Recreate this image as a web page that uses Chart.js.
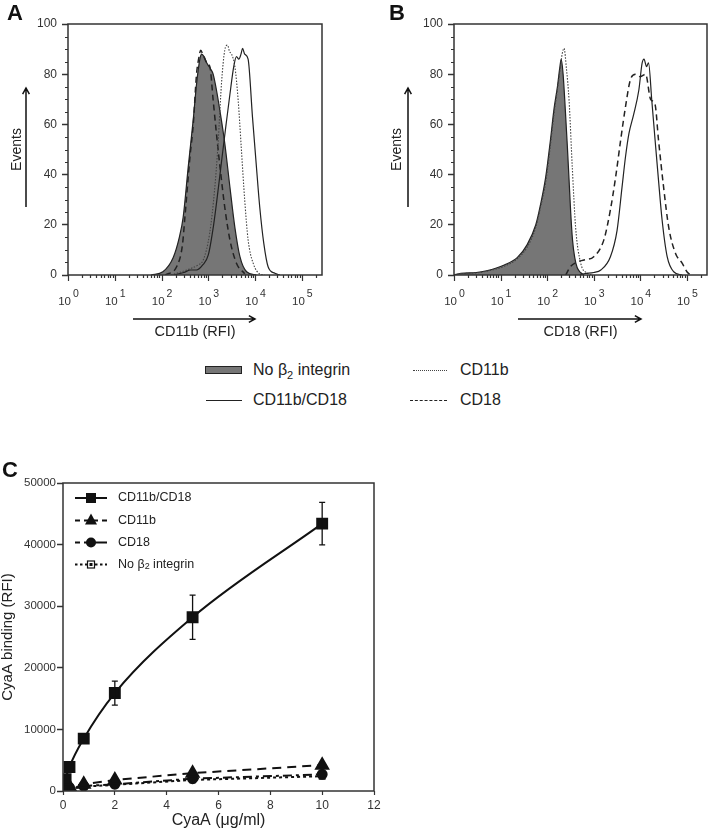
<!DOCTYPE html>
<html>
<head>
<meta charset="utf-8">
<script src="https://cdn.jsdelivr.net/npm/chart.js@4.4.1/dist/chart.umd.min.js"></script>
<style>
  body { margin: 0; background: #fff; font-family: 'Liberation Sans', Arial, sans-serif; color: #222; }
  #page { position: relative; width: 708px; height: 833px; overflow: hidden; }
  canvas { position: absolute; }
  .panel { position: absolute; font-weight: bold; font-size: 22px; line-height: 22px; color: #111; }
  .leg { position: absolute; font-size: 16px; line-height: 20px; white-space: nowrap; }
  .sample { position: absolute; box-sizing: border-box; }
</style>
</head>
<body>
<div id="page">
  <canvas id="chartA" width="354" height="345" style="left:0;top:0"></canvas>
  <canvas id="chartB" width="354" height="345" style="left:354px;top:0"></canvas>
  <canvas id="chartC" width="420" height="378" style="left:0;top:455px"></canvas>

  <div class="panel" style="left:7px;top:2px">A</div>
  <div class="panel" style="left:389px;top:2px">B</div>
  <div class="panel" style="left:2px;top:459px">C</div>

  <!-- legend shared by A and B -->
  <div class="sample" style="left:205px;top:366px;width:37px;height:8px;background:#767676;border:1.5px solid #222"></div>
  <div class="leg" style="left:253px;top:360px">No β<span style="font-size:11px;position:relative;top:4px">2</span> integrin</div>
  <div class="sample" style="left:413px;top:370px;width:34px;border-top:1px dotted #444"></div>
  <div class="leg" style="left:460px;top:360px">CD11b</div>
  <div class="sample" style="left:206px;top:400px;width:36px;border-top:1.5px solid #222"></div>
  <div class="leg" style="left:253px;top:390px">CD11b/CD18</div>
  <div class="sample" style="left:410px;top:400px;width:37px;border-top:1.5px dashed #222"></div>
  <div class="leg" style="left:460px;top:390px">CD18</div>
</div>

<script>
// Histogram data, panel A (CD11b staining): RFI values and event counts
const aNoneRfi = [60, 107, 178, 240, 290, 372, 477, 560, 660, 720, 810, 900, 1000, 1130, 1270, 1500, 1770, 2250, 2900, 3700, 4750, 6600, 10700];
const aNoneEvents = [0, 1.3, 7, 15, 23, 43, 62, 76, 86, 88, 87, 85, 83.5, 82, 80, 73.5, 65.5, 52.5, 35, 19, 7.3, 1.3, 0];
const aCd18Rfi = [120, 210, 280, 316, 405, 477, 560, 620, 690, 760, 850, 960, 1080, 1270, 1500, 1780, 2250, 2900, 4000, 6000];
const aCd18Events = [0, 3.3, 12, 23, 47, 60, 80, 86, 89.5, 88, 86, 84, 83, 69.7, 56, 43, 27, 14, 4.7, 0.5];
const aCd11bRfi = [160, 345, 600, 780, 1070, 1380, 1620, 1910, 2250, 2580, 2850, 3150, 3700, 4350, 5100, 6000, 7100, 9100, 12700, 16000];
const aCd11bEvents = [0, 2, 4, 6, 16.6, 35, 52.5, 76, 89.6, 91.6, 89, 88, 83, 69.7, 50, 30, 14, 4.7, 0.4, 0];
const aBothRfi = [180, 300, 420, 560, 760, 1000, 1300, 1650, 2000, 2400, 2900, 3500, 4000, 4500, 5000, 5400, 6000, 7100, 8800, 10700, 12600, 15400, 19000, 26500, 34000];
const aBothEvents = [0, 1, 2, 2, 4, 8, 20, 35, 48, 60, 72, 83, 87, 86, 88, 90.3, 88, 86, 63, 43, 27, 12.5, 3.3, 0.7, 0];

// Histogram data, panel B (CD18 staining)
const bNoneRfi = [1, 1.4, 3, 5, 12, 23, 37, 57, 72, 93, 118, 140, 166, 185, 200, 220, 245, 270, 295, 320, 350, 390, 440, 520, 620];
const bNoneEvents = [0, 0.7, 1, 1.7, 4, 7, 12, 20, 28, 39, 54, 66, 75, 82, 86, 80, 66, 52, 38, 25, 14, 7, 3, 1, 0];
const bCd11bRfi = [1, 1.4, 3, 5, 12, 23, 37, 57, 72, 93, 118, 140, 166, 190, 210, 230, 260, 295, 346, 408, 525, 725, 900];
const bCd11bEvents = [0, 0.5, 0.8, 1.5, 3.5, 6.5, 11, 19, 27, 37, 52, 64, 74, 82, 88, 90.3, 82, 69.7, 43, 19, 4.7, 0.7, 0];
const bBothRfi = [500, 620, 1000, 1420, 2280, 3170, 4050, 4800, 5700, 7200, 9300, 10900, 12000, 13600, 15000, 17600, 20700, 24500, 29300, 37700, 52000, 79000];
const bBothEvents = [0, 0.5, 1, 2, 7.3, 17.8, 35, 47, 56.4, 64, 73.7, 84.3, 86, 83, 84.5, 69.7, 54, 38, 22, 7.3, 1.3, 0];
const bCd18Rfi = [250, 315, 420, 620, 1000, 1650, 2280, 2950, 3800, 4800, 6100, 7900, 10000, 13000, 16600, 20700, 24500, 31600, 40700, 57000, 79000, 100000, 120000];
const bCd18Events = [0, 3.3, 5, 6, 7.3, 14, 26, 39, 54, 67, 77.7, 80, 79, 80, 70, 68, 54, 35, 19, 8.6, 4.7, 1.3, 0];

// Binding data, panel C
const cyaaDose = [0.03, 0.1, 0.25, 0.8, 2, 5, 10];
const bindBoth = [400, 1900, 3900, 8500, 15900, 28200, 43400];
const bindBothErr = [0, 0, 0, 0, 1950, 3600, 3450];
const bindCd11b = [300, 500, 700, 1100, 1800, 2900, 4200];
const bindCd18 = [200, 400, 550, 800, 1100, 2000, 2700];
const bindNone = [100, 250, 400, 700, 1000, 1800, 2400];

const FONT = "'Liberation Sans', Arial, sans-serif";
Chart.defaults.font.family = FONT;
Chart.defaults.color = '#333';

const toPts = (xs, ys) => xs.map((v, i) => ({ x: v, y: ys[i] }));

function drawArrow(ctx, x1, y1, x2, y2) {
    const ang = Math.atan2(y2 - y1, x2 - x1);
    ctx.beginPath();
    ctx.moveTo(x1, y1);
    ctx.lineTo(x2, y2);
    ctx.moveTo(x2 - 7 * Math.cos(ang - 0.5), y2 - 7 * Math.sin(ang - 0.5));
    ctx.lineTo(x2, y2);
    ctx.lineTo(x2 - 7 * Math.cos(ang + 0.5), y2 - 7 * Math.sin(ang + 0.5));
    ctx.stroke();
}

// Frame, log-decade ticks with 10^n labels, minor y ticks and axis arrows
const flowAxes = {
    id: 'flowAxes',
    afterDraw(chart, args, opts) {
        if (!opts.enabled) return;
        const { ctx, chartArea: a, scales: { x, y } } = chart;
        ctx.save();
        ctx.strokeStyle = '#333';
        ctx.lineWidth = 1.5;
        ctx.strokeRect(a.left, a.top, a.width, a.height);

        ctx.lineWidth = 1.2;
        ctx.beginPath();
        for (let e = 0; e <= 5; e++) {
            for (let k = 1; k <= 9; k++) {
                const v = k * Math.pow(10, e);
                if (v > x.max) break;
                const px = Math.round(x.getPixelForValue(v)) + 0.5;
                ctx.moveTo(px, a.bottom);
                ctx.lineTo(px, a.bottom + (k === 1 ? 6 : 3));
            }
        }
        for (let v = 5; v < 100; v += 5) {
            if (v % 20 === 0) continue;
            const py = Math.round(y.getPixelForValue(v)) + 0.5;
            ctx.moveTo(a.left, py);
            ctx.lineTo(a.left - 3, py);
        }
        ctx.stroke();

        ctx.fillStyle = '#333';
        ctx.textBaseline = 'alphabetic';
        for (let e = 0; e <= 5; e++) {
            const px = x.getPixelForValue(Math.pow(10, e));
            ctx.font = '11.5px ' + FONT;
            ctx.textAlign = 'right';
            ctx.fillText('10', px + 3, a.bottom + 30);
            ctx.font = '10.5px ' + FONT;
            ctx.textAlign = 'left';
            ctx.fillText(String(e), px + 5, a.bottom + 22);
        }

        ctx.strokeStyle = '#111';
        ctx.lineWidth = 1.5;
        opts.arrows.forEach(ar => drawArrow(ctx, ar[0], ar[1], ar[2], ar[3]));
        ctx.restore();
    }
};

// Error bars and inner legend for panel C
const bindingExtras = {
    id: 'bindingExtras',
    afterDatasetsDraw(chart, args, opts) {
        if (!opts.enabled) return;
        const { ctx, scales: { x, y } } = chart;
        ctx.save();
        ctx.strokeStyle = '#111';
        ctx.lineWidth = 1.3;
        ctx.beginPath();
        cyaaDose.forEach((d, i) => {
            const err = bindBothErr[i];
            if (!err) return;
            const px = x.getPixelForValue(d);
            const yTop = y.getPixelForValue(bindBoth[i] + err);
            const yBot = y.getPixelForValue(bindBoth[i] - err);
            ctx.moveTo(px, yTop); ctx.lineTo(px, yBot);
            ctx.moveTo(px - 3, yTop); ctx.lineTo(px + 3, yTop);
            ctx.moveTo(px - 3, yBot); ctx.lineTo(px + 3, yBot);
        });
        ctx.stroke();
        ctx.restore();
    },
    afterDraw(chart, args, opts) {
        if (!opts.enabled) return;
        const { ctx, chartArea: a } = chart;
        ctx.save();
        ctx.strokeStyle = '#333';
        ctx.lineWidth = 1.5;
        ctx.strokeRect(a.left, a.top, a.width, a.height);

        const rows = [43, 65.5, 87.5, 109.5];
        const x0 = 75, x1 = 107, mx = 91;
        ctx.strokeStyle = '#111';
        ctx.fillStyle = '#111';
        ctx.lineWidth = 2;
        // CD11b/CD18
        ctx.beginPath(); ctx.moveTo(x0, rows[0]); ctx.lineTo(x1, rows[0]); ctx.stroke();
        ctx.fillRect(mx - 5, rows[0] - 5, 10, 10);
        // CD11b
        ctx.setLineDash([5, 4]);
        ctx.beginPath(); ctx.moveTo(x0, rows[1]); ctx.lineTo(x1, rows[1]); ctx.stroke();
        ctx.setLineDash([]);
        ctx.beginPath();
        ctx.moveTo(mx, rows[1] - 7); ctx.lineTo(mx + 6, rows[1] + 4); ctx.lineTo(mx - 6, rows[1] + 4);
        ctx.closePath(); ctx.fill();
        // CD18
        ctx.setLineDash([5, 4]);
        ctx.beginPath(); ctx.moveTo(x0, rows[2]); ctx.lineTo(mx, rows[2]); ctx.stroke();
        ctx.setLineDash([]);
        ctx.beginPath(); ctx.moveTo(mx, rows[2]); ctx.lineTo(x1, rows[2]); ctx.stroke();
        ctx.beginPath(); ctx.arc(mx, rows[2], 5, 0, Math.PI * 2); ctx.fill();
        // No beta2 integrin
        ctx.setLineDash([2.5, 2.5]);
        ctx.beginPath(); ctx.moveTo(x0, rows[3]); ctx.lineTo(x1, rows[3]); ctx.stroke();
        ctx.setLineDash([]);
        ctx.fillStyle = '#fff';
        ctx.fillRect(mx - 4, rows[3] - 4, 8, 8);
        ctx.lineWidth = 1.2;
        ctx.strokeRect(mx - 3.5, rows[3] - 3.5, 7, 7);
        ctx.fillStyle = '#111';
        ctx.fillRect(mx - 1.5, rows[3] - 1.5, 3, 3);

        ctx.fillStyle = '#222';
        ctx.font = '12.5px ' + FONT;
        ctx.textAlign = 'left';
        ctx.textBaseline = 'middle';
        ctx.fillText('CD11b/CD18', 118, rows[0]);
        ctx.fillText('CD11b', 118, rows[1]);
        ctx.fillText('CD18', 118, rows[2]);
        ctx.fillText('No β', 118, rows[3]);
        const w = ctx.measureText('No β').width;
        ctx.font = '9px ' + FONT;
        ctx.fillText('2', 118 + w, rows[3] + 2);
        const w2 = ctx.measureText('2').width;
        ctx.font = '12.5px ' + FONT;
        ctx.fillText(' integrin', 118 + w + w2, rows[3]);
        ctx.restore();
    }
};

Chart.register(flowAxes, bindingExtras);

function histogram(canvasId, xTitle, series, padLeft, yWidth, padRight, arrows) {
    const styles = [
        { borderColor: '#222', borderWidth: 1.2, borderDash: [] },
        { borderColor: '#444', borderWidth: 1.1, borderDash: [1.5, 1.5] },
        { borderColor: '#222', borderWidth: 1.5, borderDash: [6, 4] },
        { borderColor: '#222', borderWidth: 1.2, borderDash: [], fill: 'origin', backgroundColor: '#767676' }
    ];
    return new Chart(document.getElementById(canvasId), {
        type: 'line',
        data: {
            datasets: series.map((s, i) => Object.assign({
                label: s.label,
                data: toPts(s.x, s.y),
                pointRadius: 0,
                fill: false,
                cubicInterpolationMode: 'monotone'
            }, styles[i]))
        },
        options: {
            responsive: false,
            animation: false,
            layout: { padding: { left: padLeft, top: 24, right: padRight, bottom: 0 } },
            plugins: {
                legend: { display: false },
                tooltip: { enabled: false },
                flowAxes: { enabled: true, arrows: arrows },
                bindingExtras: { enabled: false }
            },
            scales: {
                x: {
                    type: 'logarithmic',
                    min: 1,
                    max: 270000,
                    grid: { display: false },
                    border: { display: false },
                    ticks: { display: false },
                    title: { display: true, text: xTitle, color: '#222', font: { size: 14.5 }, padding: { top: 0, bottom: 4 } },
                    afterFit: scale => { scale.height = 70; }
                },
                y: {
                    min: 0,
                    max: 100,
                    ticks: { stepSize: 20, padding: 5, font: { size: 12 } },
                    grid: { drawOnChartArea: false, tickLength: 6, tickWidth: 1.5, tickColor: '#333' },
                    border: { display: false },
                    title: { display: true, text: 'Events', color: '#222', font: { size: 14 }, padding: { top: 8.6, bottom: 0 } },
                    afterFit: scale => { scale.width = yWidth; }
                }
            }
        }
    });
}

histogram('chartA', 'CD11b (RFI)', [
    { label: 'CD11b/CD18', x: aBothRfi, y: aBothEvents },
    { label: 'CD11b', x: aCd11bRfi, y: aCd11bEvents },
    { label: 'CD18', x: aCd18Rfi, y: aCd18Events },
    { label: 'No β2 integrin', x: aNoneRfi, y: aNoneEvents }
], 0, 68, 32, [[26, 207, 26, 88], [133, 319, 255, 319]]);

histogram('chartB', 'CD18 (RFI)', [
    { label: 'CD11b/CD18', x: bBothRfi, y: bBothEvents },
    { label: 'CD11b', x: bCd11bRfi, y: bCd11bEvents },
    { label: 'CD18', x: bCd18Rfi, y: bCd18Events },
    { label: 'No β2 integrin', x: bNoneRfi, y: bNoneEvents }
], 26, 74, 1, [[54, 207, 54, 88], [164, 319, 287, 319]]);

new Chart(document.getElementById('chartC'), {
    type: 'line',
    data: {
        datasets: [
            {
                label: 'CD11b/CD18', data: toPts(cyaaDose, bindBoth),
                borderColor: '#111', backgroundColor: '#111', borderWidth: 2,
                pointStyle: 'rect', pointRadius: 7, cubicInterpolationMode: 'monotone'
            },
            {
                label: 'CD11b', data: toPts(cyaaDose, bindCd11b),
                borderColor: '#111', backgroundColor: '#111', borderWidth: 2, borderDash: [9, 6],
                pointStyle: 'triangle', pointRadius: 7
            },
            {
                label: 'CD18', data: toPts(cyaaDose, bindCd18),
                borderColor: '#111', backgroundColor: '#111', borderWidth: 2, borderDash: [9, 4, 3, 4],
                pointStyle: 'circle', pointRadius: 4.5
            },
            {
                label: 'No β2 integrin', data: toPts(cyaaDose, bindNone),
                borderColor: '#111', backgroundColor: '#fff', borderWidth: 2, borderDash: [3, 3],
                pointStyle: 'rect', pointRadius: 4, pointBorderWidth: 1.2
            }
        ]
    },
    options: {
        responsive: false,
        animation: false,
        layout: { padding: { left: 0, top: 28, right: 46, bottom: 0 } },
        plugins: {
            legend: { display: false },
            tooltip: { enabled: false },
            flowAxes: { enabled: false },
            bindingExtras: { enabled: true }
        },
        scales: {
            x: {
                type: 'linear',
                min: 0,
                max: 12,
                ticks: { stepSize: 2, padding: 3, font: { size: 12 } },
                grid: { drawOnChartArea: false, tickLength: 4, tickWidth: 1.2, tickColor: '#333' },
                border: { display: false },
                title: { display: true, text: 'CyaA (μg/ml)', color: '#222', font: { size: 16 }, padding: { top: 0, bottom: 3 } },
                afterFit: scale => { scale.height = 42; }
            },
            y: {
                min: 0,
                max: 50000,
                ticks: { stepSize: 10000, padding: 1, font: { size: 11.5 }, callback: v => String(v) },
                grid: { drawOnChartArea: false, tickLength: 6, tickWidth: 1.5, tickColor: '#333' },
                border: { display: false },
                title: { display: true, text: 'CyaA binding (RFI)', color: '#222', font: { size: 15, lineHeight: 1 }, padding: 0 },
                afterFit: scale => { scale.width = 63; }
            }
        }
    }
});
</script>
</body>
</html>
